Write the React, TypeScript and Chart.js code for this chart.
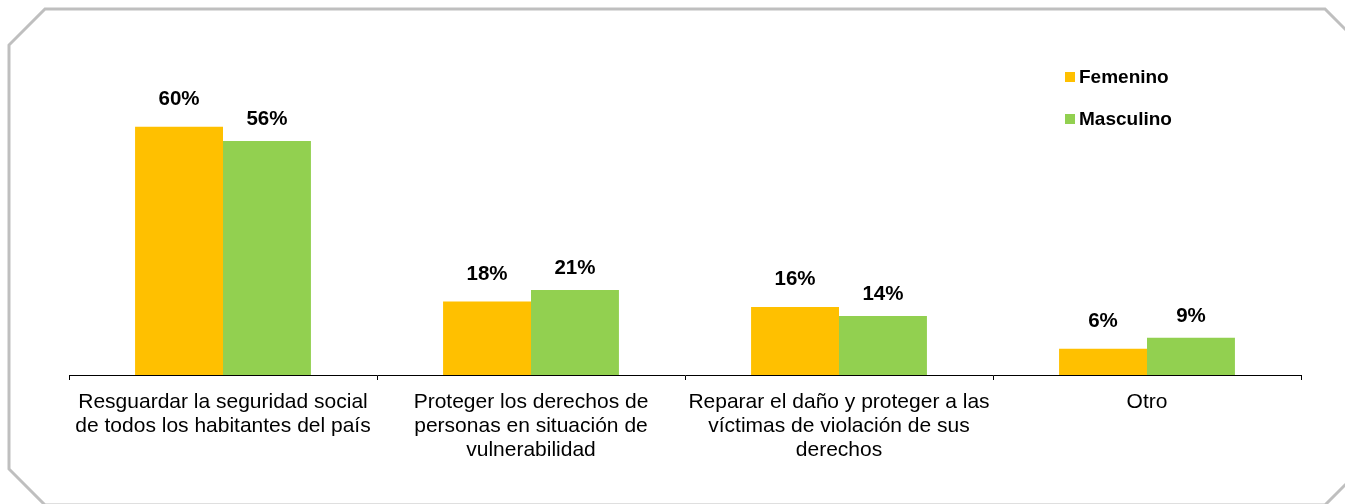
import React, { useEffect, useRef } from "react";
import { Chart, registerables } from "chart.js";

Chart.register(...registerables);

const categories: string[][] = [
  ["Resguardar la seguridad social", "de todos los habitantes del país"],
  ["Proteger los derechos de", "personas en situación de", "vulnerabilidad"],
  ["Reparar el daño y proteger a las", "víctimas de violación de sus", "derechos"],
  ["Otro"],
];
const femenino: number[] = [59.8, 17.7, 16.4, 6.3];
const masculino: number[] = [56.4, 20.5, 14.2, 9.0];
const seriesNames: string[] = ["Femenino", "Masculino"];
const seriesColors: string[] = ["#FFC000", "#92D050"];

const W = 1345;
const H = 504;

const frame = {
  id: "frame",
  beforeDraw(chart: any) {
    const ctx = chart.ctx;
    const l = 9, t = 9, r = 1361, b = 505, c = 36;
    ctx.save();
    ctx.fillStyle = "#ffffff";
    ctx.fillRect(0, 0, W, H);
    ctx.beginPath();
    ctx.moveTo(l + c, t);
    ctx.lineTo(r - c, t);
    ctx.lineTo(r, t + c);
    ctx.lineTo(r, b - c);
    ctx.lineTo(r - c, b);
    ctx.lineTo(l + c, b);
    ctx.lineTo(l, b - c);
    ctx.lineTo(l, t + c);
    ctx.closePath();
    ctx.strokeStyle = "#BFBFBF";
    ctx.lineWidth = 3;
    ctx.stroke();
    ctx.restore();
  },
};

const labelsPlugin = {
  id: "valueLabels",
  afterDatasetsDraw(chart: any) {
    const ctx = chart.ctx;
    ctx.save();
    ctx.font = "bold 20.5px 'Liberation Sans', Arial, sans-serif";
    ctx.fillStyle = "#000";
    ctx.textAlign = "center";
    ctx.textBaseline = "alphabetic";
    const gaps = [22, 16];
    chart.data.datasets.forEach((ds: any, di: number) => {
      const meta = chart.getDatasetMeta(di);
      meta.data.forEach((bar: any, i: number) => {
        const v = ds.data[i];
        ctx.fillText(Math.round(v) + "%", bar.x, bar.y - gaps[di]);
      });
    });
    ctx.restore();
  },
};

const legendPlugin = {
  id: "customLegend",
  afterDraw(chart: any) {
    const ctx = chart.ctx;
    ctx.save();
    ctx.font = "bold 19px 'Liberation Sans', Arial, sans-serif";
    ctx.textBaseline = "alphabetic";
    ctx.textAlign = "left";
    const ys = [72, 114];
    seriesNames.forEach((name, i) => {
      ctx.fillStyle = seriesColors[i];
      ctx.fillRect(1065, ys[i], 10, 10);
      ctx.fillStyle = "#000";
      ctx.fillText(name, 1079, ys[i] + 11);
    });
    ctx.restore();
  },
};

export default function App() {
  const ref = useRef<HTMLCanvasElement>(null);
  useEffect(() => {
    if (!ref.current) return;
    const chart = new Chart(ref.current, {
      type: "bar",
      data: {
        labels: categories,
        datasets: [
          { label: seriesNames[0], data: femenino, backgroundColor: seriesColors[0] },
          { label: seriesNames[1], data: masculino, backgroundColor: seriesColors[1] },
        ],
      },
      options: {
        animation: false,
        responsive: false,
        devicePixelRatio: 1,
        layout: { padding: { left: 69, right: 44, top: 43, bottom: 0 } },
        plugins: { legend: { display: false }, tooltip: { enabled: false } },
        datasets: { bar: { categoryPercentage: 0.571, barPercentage: 1 } },
        scales: {
          x: {
            grid: {
              display: true,
              offset: true,
              drawOnChartArea: false,
              drawTicks: true,
              tickLength: 5,
              color: "#000",
            },
            border: { display: true, color: "#000", width: 1 },
            ticks: {
              color: "#000",
              padding: 10,
              maxRotation: 0,
              autoSkip: false,
              font: { family: "'Liberation Sans', Arial, sans-serif", size: 21, lineHeight: "24px" },
            },
            afterFit: (s: any) => {
              s.height = 129;
            },
          },
          y: { display: false, min: 0, max: 80 },
        },
      },
      plugins: [frame, labelsPlugin, legendPlugin],
    });
    return () => chart.destroy();
  }, []);
  return (
    <div style={{ position: "absolute", left: 0, top: 0, width: W, height: H }}>
      <canvas ref={ref} width={W} height={H} style={{ display: "block" }} />
    </div>
  );
}
